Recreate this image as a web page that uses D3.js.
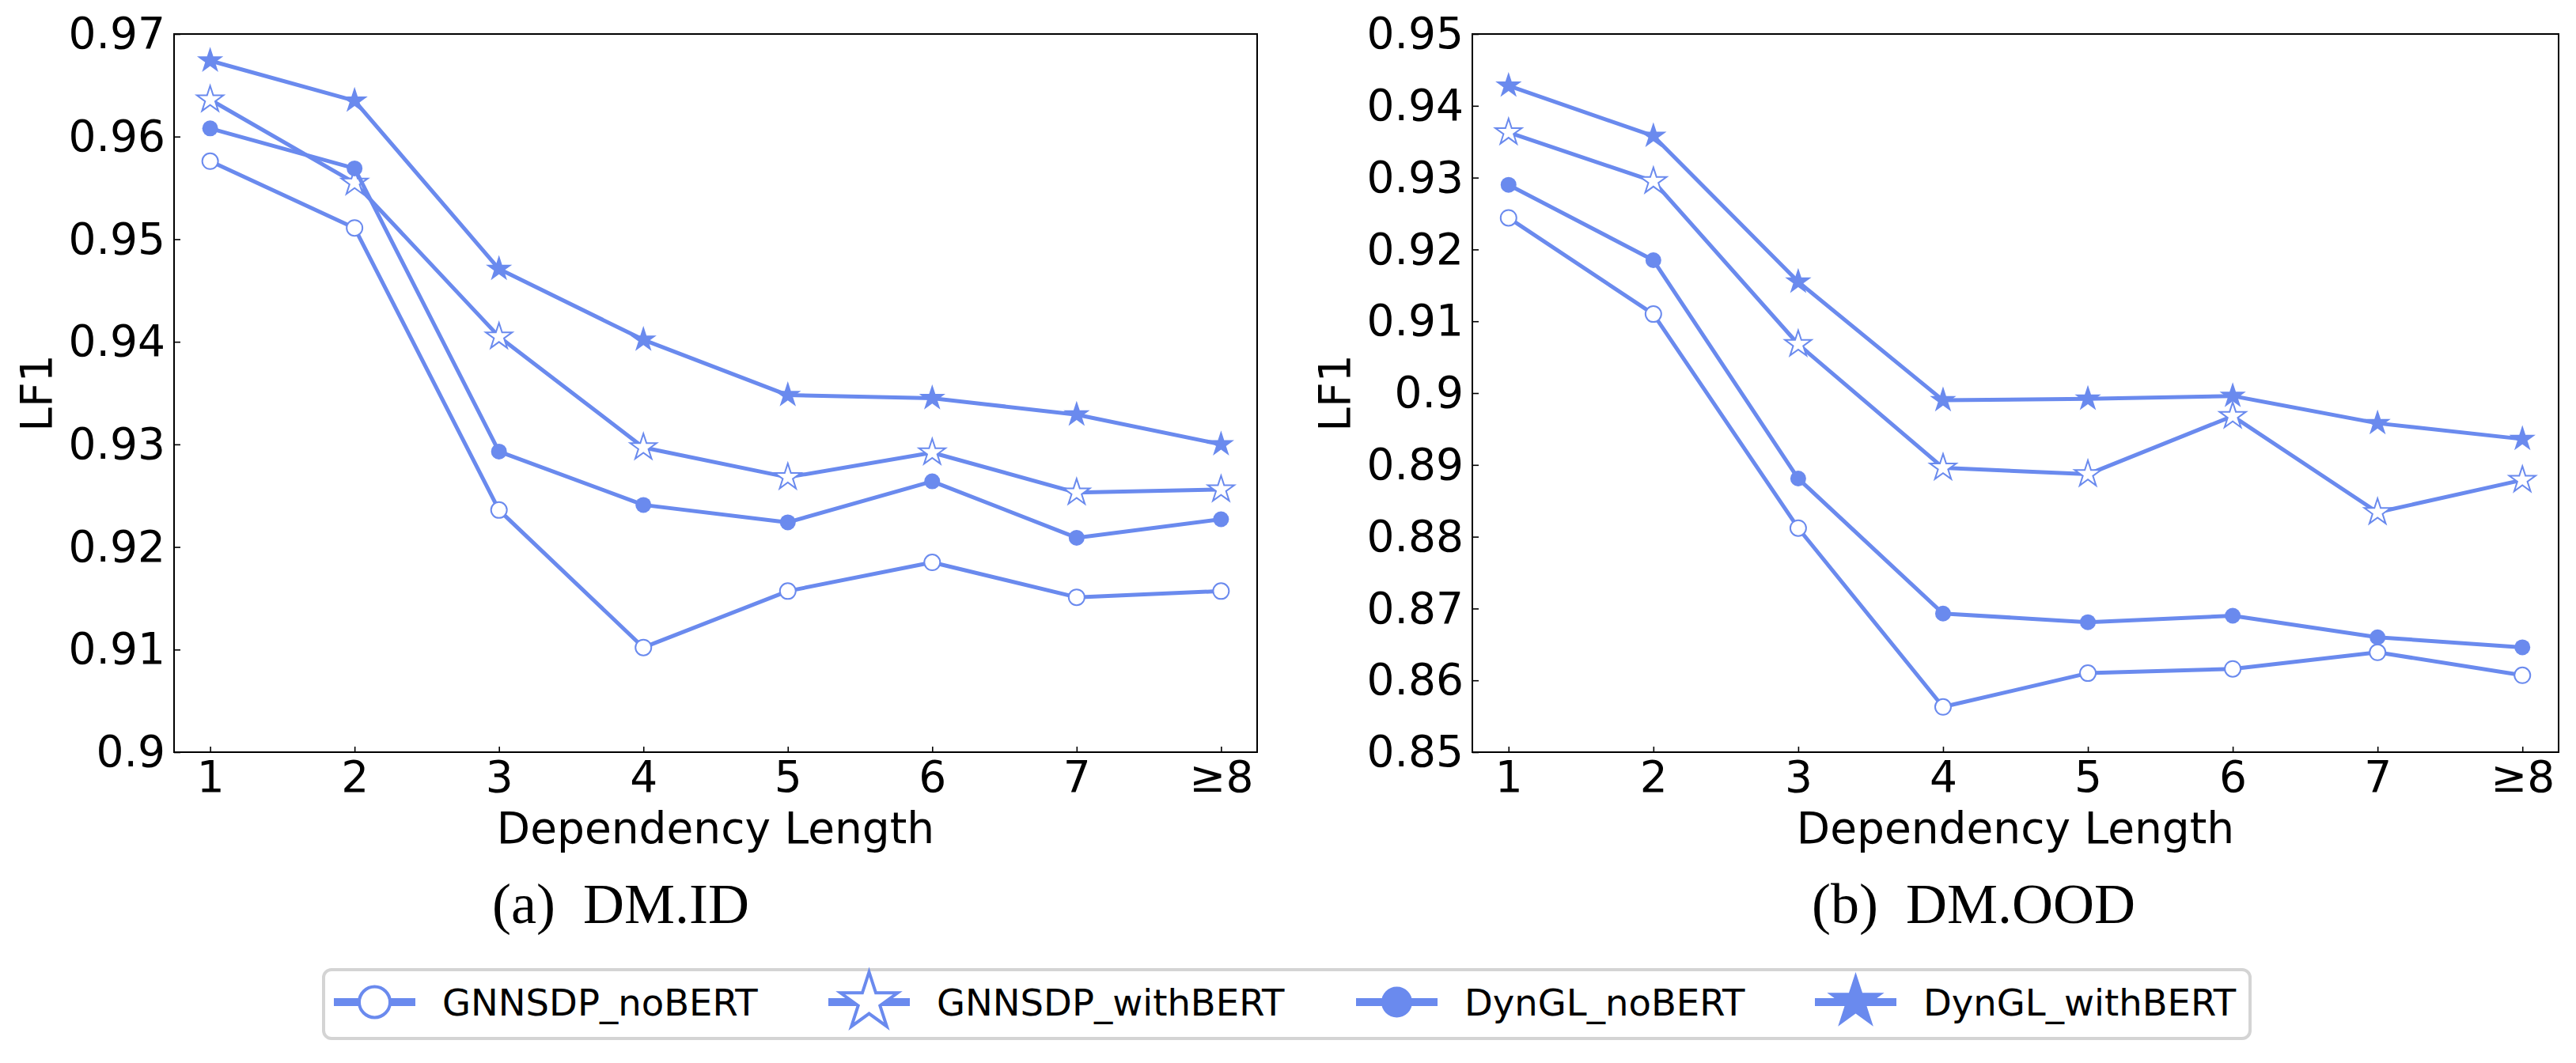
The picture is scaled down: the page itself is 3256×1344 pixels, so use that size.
<!DOCTYPE html>
<html>
<head>
<meta charset="utf-8">
<script src="https://cdn.jsdelivr.net/npm/d3@7"></script>
<style>
  body { margin: 0; background: #fff; }
</style>
</head>
<body>
<div id="chart"></div>
<script>
// values
var xLabels = ["1", "2", "3", "4", "5", "6", "7", "\u22658"];
var seriesNames = ["GNNSDP_noBERT", "GNNSDP_withBERT", "DynGL_noBERT", "DynGL_withBERT"];

// (a) DM.ID
var idGnnNo   = [0.9576, 0.9511, 0.9236, 0.9102, 0.9157, 0.9185, 0.9151, 0.9157];
var idGnnBert = [0.9636, 0.9555, 0.9405, 0.9297, 0.9268, 0.9292, 0.9253, 0.9256];
var idDynNo   = [0.9608, 0.9569, 0.9293, 0.9241, 0.9224, 0.9264, 0.9209, 0.9227];
var idDynBert = [0.9674, 0.9635, 0.9471, 0.9402, 0.9348, 0.9345, 0.9329, 0.9300];

// (b) DM.OOD
var oodGnnNo   = [0.9244, 0.9110, 0.8812, 0.8563, 0.8610, 0.8616, 0.8639, 0.8607];
var oodGnnBert = [0.9363, 0.9295, 0.9068, 0.8896, 0.8887, 0.8968, 0.8834, 0.8879];
var oodDynNo   = [0.9290, 0.9185, 0.8881, 0.8693, 0.8681, 0.8690, 0.8660, 0.8646];
var oodDynBert = [0.9428, 0.9358, 0.9155, 0.8990, 0.8992, 0.8996, 0.8958, 0.8936];

var yTicksID  = [0.90, 0.91, 0.92, 0.93, 0.94, 0.95, 0.96, 0.97];
var yTicksOOD = [0.85, 0.86, 0.87, 0.88, 0.89, 0.90, 0.91, 0.92, 0.93, 0.94, 0.95];

function main(){
  var W = 3256, H = 1344;
  var blue = "#6a8aee";
  var font = "DejaVu Sans";

  var svg = d3.select("#chart").append("svg")
      .attr("width", W)
      .attr("height", H)
      .style("background", "#fff");

  // marker for each series: [shape, filled]
  var markers = [["circle", false], ["star", false], ["circle", true], ["star", true]];

  function starPath(R){
    var r = R * 0.381966, pts = [];
    for (var i = 0; i < 10; i++) {
      var a = -Math.PI / 2 + i * Math.PI / 5, rad = i % 2 ? r : R;
      pts.push([rad * Math.cos(a), rad * Math.sin(a)]);
    }
    return "M" + pts.join("L") + "Z";
  }

  function drawMarker(g, kind, filled, size, sw){
    if (kind == "circle") {
      g.append("circle").attr("r", size)
        .attr("fill", filled ? blue : "#fff")
        .attr("stroke", blue).attr("stroke-width", filled ? 0 : sw);
    } else {
      g.append("path").attr("d", starPath(size))
        .attr("fill", filled ? blue : "#fff")
        .attr("stroke", blue).attr("stroke-width", filled ? 0 : sw)
        .attr("stroke-linejoin", "miter");
    }
  }

  function panel(x0, x1, y0, y1, yTicks, series, yLabelX, caption, capX){
    var xScale = d3.scaleLinear().domain([0.75, 8.25]).range([x0, x1]);
    var yScale = d3.scaleLinear().domain([yTicks[0], yTicks[yTicks.length - 1]]).range([y1, y0]);
    var g = svg.append("g");

    // y axis, ticks pointing inside
    var ya = g.append("g")
        .attr("transform", "translate(" + x0 + ",0)")
        .call(d3.axisLeft(yScale).tickValues(yTicks)
          .tickFormat(function(d){ return String(+d.toFixed(2)); })
          .tickSizeInner(-8).tickSizeOuter(0).tickPadding(11));
    // x axis
    var xa = g.append("g")
        .attr("transform", "translate(0," + y1 + ")")
        .call(d3.axisBottom(xScale).tickValues(d3.range(1, xLabels.length + 1))
          .tickFormat(function(d){ return xLabels[d - 1]; })
          .tickSizeInner(-7).tickSizeOuter(0).tickPadding(11));
    [ya, xa].forEach(function(a){
      a.select(".domain").remove();
      a.attr("font-size", 55).attr("font-family", font);
      a.selectAll("line").attr("stroke", "#000").attr("stroke-width", 1.6);
      a.selectAll("text").attr("fill", "#000");
    });

    // frame
    g.append("rect")
      .attr("x", x0).attr("y", y0)
      .attr("width", x1 - x0).attr("height", y1 - y0)
      .attr("fill", "none").attr("stroke", "#000").attr("stroke-width", 2);

    var line = d3.line()
      .x(function(d, i){ return xScale(i + 1); })
      .y(function(d){ return yScale(d); });

    series.forEach(function(vals, k){
      g.append("path")
        .attr("d", line(vals))
        .attr("fill", "none")
        .attr("stroke", blue)
        .attr("stroke-width", 5)
        .attr("stroke-linejoin", "round");
      g.selectAll(".m" + k)
        .data(vals)
        .enter().append("g")
        .attr("class", "m" + k)
        .attr("transform", function(d, i){ return "translate(" + xScale(i + 1) + "," + yScale(d) + ")"; })
        .each(function(){
          var kind = markers[k][0];
          drawMarker(d3.select(this), kind, markers[k][1], kind == "circle" ? 10 : 17.5, 2);
        });
    });

    // axis labels
    g.append("text")
      .attr("x", (x0 + x1) / 2).attr("y", 1066)
      .attr("text-anchor", "middle")
      .attr("font-family", font).attr("font-size", 55)
      .text("Dependency Length");
    g.append("text")
      .attr("transform", "translate(" + yLabelX + "," + (y0 + y1) / 2 + ") rotate(-90)")
      .attr("text-anchor", "middle")
      .attr("font-family", font).attr("font-size", 55)
      .text("LF1");

    // sub caption
    var c = svg.append("text")
      .attr("x", capX).attr("y", 1167)
      .attr("font-family", "Liberation Serif").attr("font-size", 72);
    c.append("tspan").text(caption[0]);
    c.append("tspan").attr("dx", 35).text(caption[1]);
  }

  panel(220, 1589, 43, 951, yTicksID, [idGnnNo, idGnnBert, idDynNo, idDynBert], 65, ["(a)", "DM.ID"], 622);
  panel(1861, 3234, 43, 951, yTicksOOD, [oodGnnNo, oodGnnBert, oodDynNo, oodDynBert], 1706, ["(b)", "DM.OOD"], 2290);

  // legend
  var leg = svg.append("g");
  leg.append("rect")
    .attr("x", 409).attr("y", 1226)
    .attr("width", 2844 - 409).attr("height", 1313 - 1226)
    .attr("rx", 10)
    .attr("fill", "#fff").attr("stroke", "#d4d4d4").attr("stroke-width", 4);

  var legX = [422, 1047, 1714, 2294];
  var legY = 1267;
  seriesNames.forEach(function(name, k){
    var item = leg.append("g").attr("transform", "translate(" + legX[k] + "," + legY + ")");
    item.append("line")
      .attr("x1", 0).attr("x2", 103)
      .attr("stroke", blue).attr("stroke-width", 10);
    var m = item.append("g").attr("transform", "translate(51.5,0)");
    var kind = markers[k][0];
    drawMarker(m, kind, markers[k][1], kind == "circle" ? 19.5 : 38, 4);
    item.append("text")
      .attr("x", 137).attr("y", 16.5)
      .attr("font-family", font).attr("font-size", 46.5)
      .text(name);
  });
}

main()
</script>
</body>
</html>
